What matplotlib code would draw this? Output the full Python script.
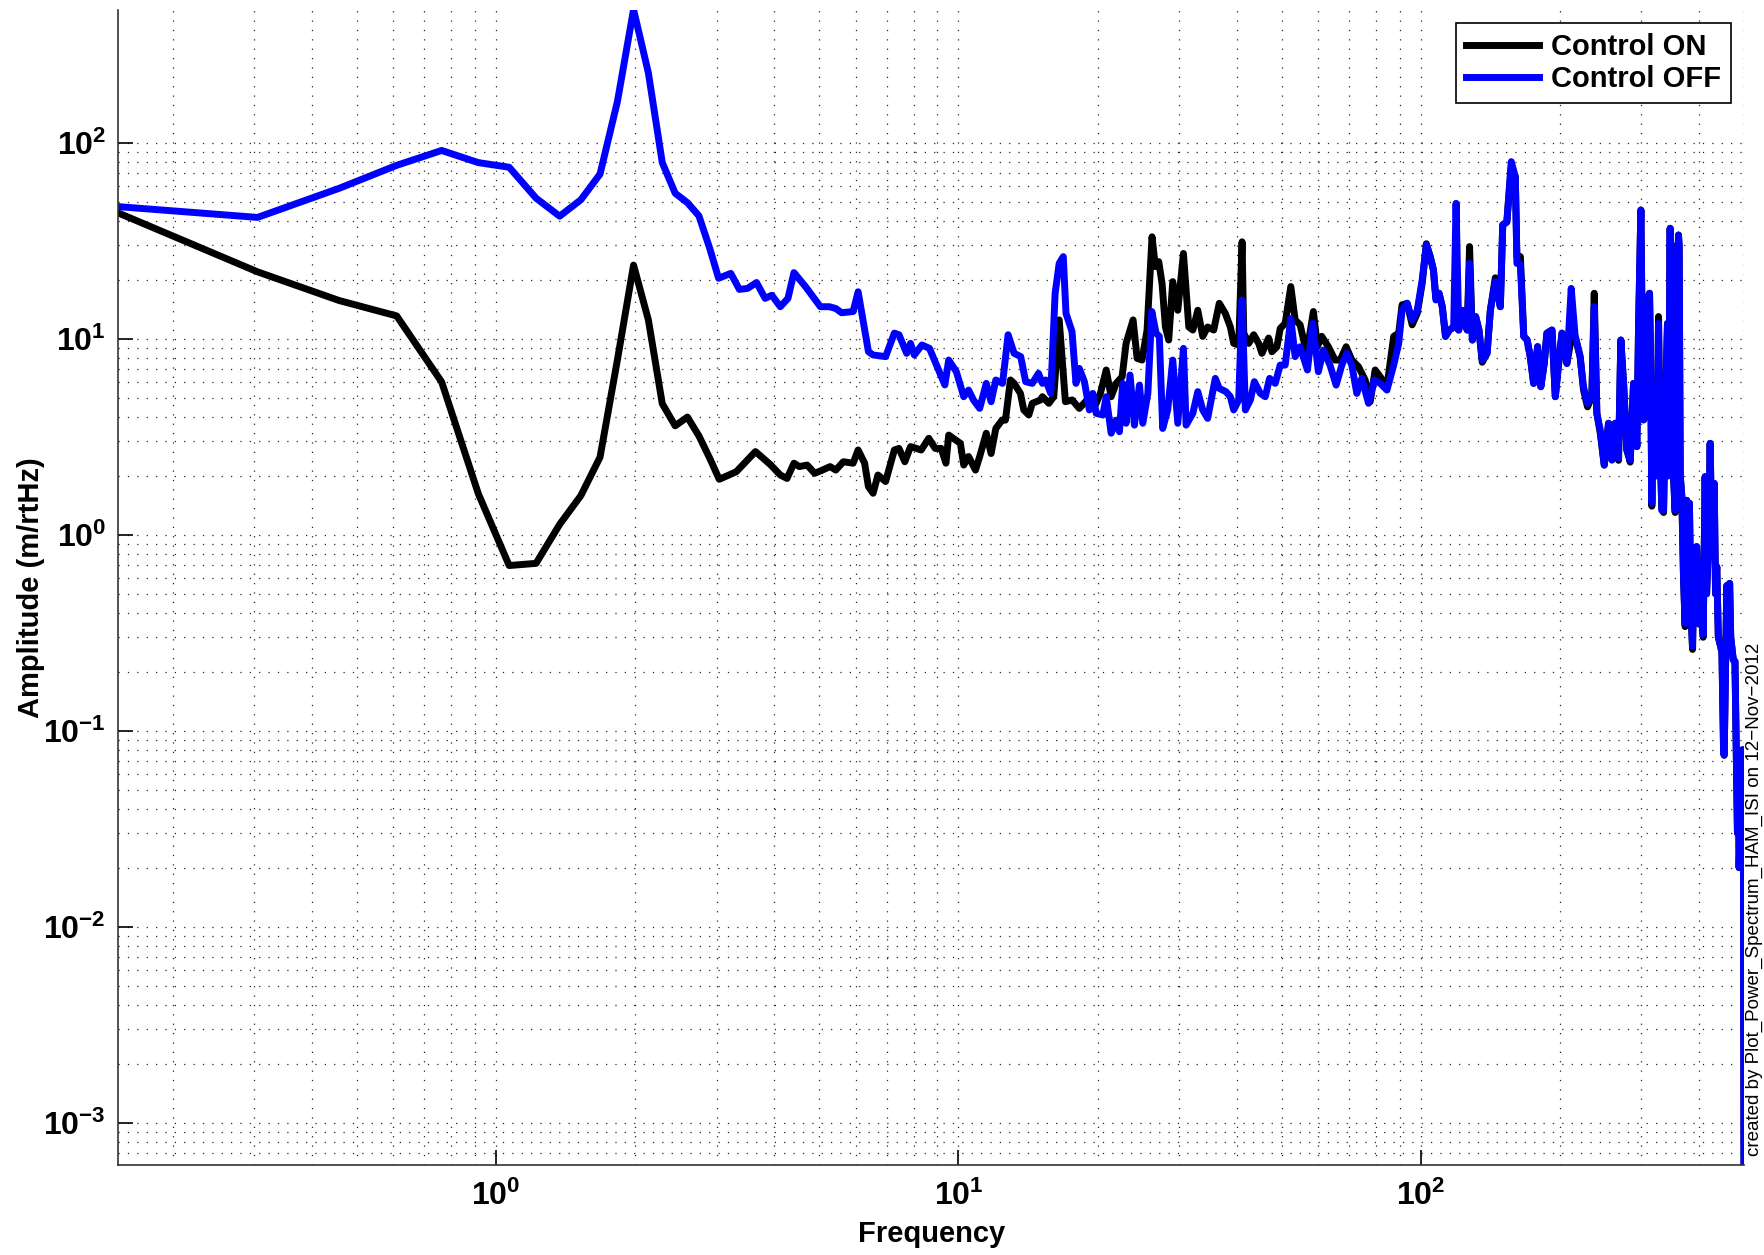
import numpy as np
import matplotlib
matplotlib.use('Agg')
import matplotlib.pyplot as plt
from matplotlib.ticker import FixedLocator, FuncFormatter, LogLocator, NullFormatter

plt.rcParams['font.family'] = ['Liberation Sans', 'DejaVu Sans']
plt.rcParams['mathtext.fontset'] = 'custom'
plt.rcParams['mathtext.rm'] = 'Liberation Sans'
plt.rcParams['mathtext.bf'] = 'Liberation Sans:bold'

# Control ON (black)
freq_on = [0.153, 0.305, 0.458, 0.610, 0.763, 0.916, 1.068, 1.221, 1.373, 1.526,
           1.679, 1.831, 1.984, 2.136, 2.289, 2.441, 2.594, 2.747, 2.899, 3.04,
           3.31, 3.64, 3.82, 3.93, 4.12, 4.26, 4.41, 4.53, 4.71, 4.89,
           5.08, 5.28, 5.43, 5.64, 5.92, 6.07, 6.27, 6.39, 6.54, 6.70,
           6.96, 7.27, 7.44, 7.66, 7.88, 8.31, 8.63, 8.91, 9.18, 9.40,
           9.53, 10.10, 10.27, 10.52, 10.89, 11.12, 11.49, 11.77, 12.05, 12.43,
           12.64, 12.96, 13.20, 13.62, 13.85, 14.20, 14.45, 15.05, 15.20, 15.69,
           16.08, 16.52, 17.04, 17.62, 18.26, 18.98, 19.46, 19.86, 20.28, 20.88,
           21.40, 21.94, 22.60, 23.05, 23.87, 24.35, 24.96, 25.59, 26.23, 26.67,
           27.12, 27.57, 28.04, 28.50, 29.08, 29.82, 30.67, 31.50, 32.14, 32.94,
           33.76, 34.60, 35.66, 36.66, 37.78, 38.74, 39.39, 40.39, 41.07, 41.41,
           42.45, 43.52, 44.60, 45.34, 46.87, 47.65, 48.85, 49.66, 50.90, 52.35,
           53.49, 54.83, 56.68, 58.58, 59.75, 61.06, 63.11, 65.26, 66.93, 68.96,
           70.93, 73.33, 75.81, 77.73, 79.68, 81.70, 84.49, 87.38, 89.59, 91.10,
           93.43, 95.80, 98.24, 100.7, 102.8, 104.8, 106.5, 107.8, 109.5, 111.3,
           113.1, 115.3, 117.8, 119.2, 120.8, 122.8, 126.0, 127.5, 129.3, 131.4,
           133.6, 135.8, 139.1, 141.4, 144.9, 148.6, 150.4, 153.5, 156.9, 160.1,
           161.4, 164.2, 167.0, 169.8, 172.5, 175.4, 178.9, 181.8, 184.9, 187.4,
           192.2, 195.4, 198.7, 202.0, 207.0, 211.5, 215.7, 221.1, 224.8, 229.4,
           234.4, 237.2, 240.3, 244.4, 249.3, 254.7, 259.0, 263.3, 267.7, 270.8,
           274.5, 279.0, 283.7, 288.5, 293.3, 295.7, 299.2, 301.0, 303.2, 306.0,
           308.2, 310.0, 312.4, 314.0, 316.0, 318.0, 321.3, 324.0, 326.7, 329.0,
           332.1, 335.0, 337.7, 341.6, 343.0, 346.2, 348.0, 350.0, 352.0, 354.9,
           357.0, 360.8, 362.0, 364.0, 366.9, 370.0, 373.0, 376.0, 378.0, 381.0,
           384.0, 387.0, 390.0, 395.0, 400.0, 405.0, 408.0, 412.1, 415.0, 419.0,
           422.5, 425.0, 428.0, 431.0, 434.0, 436.6, 440.0, 445.0, 448.0, 451.7,
           453.0, 456.0, 459.0, 462.0, 465.5, 468.0, 472.0, 474.0, 478.0, 481.0,
           484.0, 486.0, 488.0, 490.0, 494.0, 497.0, 498.5, 500.0]
amp_on = [43.8, 22.0, 15.7, 13.1, 6.03, 1.62, 0.697, 0.715, 1.13, 1.585,
          2.49, 7.83, 23.8, 12.5, 4.67, 3.60, 3.99, 3.20, 2.46, 1.92,
          2.10, 2.66, 2.41, 2.27, 2.02, 1.94, 2.32, 2.23, 2.27, 2.06,
          2.14, 2.23, 2.14, 2.36, 2.32, 2.71, 2.32, 1.76, 1.63, 2.02,
          1.87, 2.71, 2.76, 2.36, 2.82, 2.71, 3.11, 2.76, 2.76, 2.32,
          3.23, 2.93, 2.27, 2.51, 2.14, 2.51, 3.30, 2.60, 3.49, 3.85,
          3.85, 6.17, 5.93, 5.27, 4.34, 4.09, 4.69, 4.88, 5.07, 4.69,
          5.07, 12.5, 4.78, 4.88, 4.42, 4.88, 4.88, 4.69, 5.27, 6.94,
          5.07, 5.93, 6.41, 9.49, 12.5, 7.96, 7.80, 11.1, 33.2, 23.4,
          24.8, 19.2, 11.5, 9.87, 19.6, 14.0, 27.3, 11.5, 11.1, 14.0,
          10.3, 11.5, 11.1, 15.2, 13.5, 11.5, 9.49, 9.31, 31.3, 10.7,
          9.49, 10.5, 9.49, 8.44, 10.1, 8.60, 9.12, 11.3, 12.0, 18.5,
          12.5, 11.8, 8.44, 13.8, 9.12, 10.3, 9.12, 7.80, 7.80, 9.12,
          7.80, 7.21, 6.17, 4.78, 6.94, 6.41, 5.70, 10.3, 10.7, 14.9,
          15.2, 11.8, 13.5, 19.2, 30.6, 26.3, 22.5, 16.2, 17.1, 14.6,
          10.3, 11.1, 11.5, 11.5, 11.1, 14.0, 11.1, 29.6, 9.87, 13.0,
          11.1, 7.6, 8.44, 14.0, 20.5, 14.6, 38.2, 39.5, 75.0, 67.3,
          26.3, 26.3, 10.3, 9.87, 8.12, 5.93, 9.13, 5.70, 7.50, 10.7,
          11.1, 5.07, 7.50, 10.7, 7.50, 10.0, 10.3, 8.12, 5.50, 4.50,
          5.07, 17.1, 4.17, 3.30, 2.27, 3.71, 2.41, 3.71, 2.40, 9.87,
          5.93, 2.71, 2.35, 5.93, 2.82, 11.1, 45.5, 12.0, 3.86, 8.0,
          16.4, 4.0, 17.1, 8.0, 1.40, 5.0, 3.86, 2.0, 13.0, 3.0,
          1.34, 1.30, 4.01, 12.0, 2.0, 36.7, 3.0, 30.0, 2.0, 1.30,
          6.0, 33.9, 30.0, 2.0, 1.57, 0.6, 0.34, 1.5, 0.5, 1.45,
          0.4, 0.26, 0.8, 0.87, 0.35, 0.5, 0.30, 1.98, 0.5, 0.9,
          2.93, 1.2, 0.8, 1.83, 0.5, 0.687, 0.3, 0.27, 0.25, 0.0775,
          0.075, 0.2, 0.55, 0.35, 0.565, 0.3, 0.25, 0.23, 0.226, 0.08,
          0.03, 0.08, 0.02, 0.03, 0.06, 0.08, 0.03, 0.000607]

# Control OFF (blue)
freq_off = [0.153, 0.305, 0.458, 0.610, 0.763, 0.916, 1.068, 1.221, 1.373, 1.526,
            1.679, 1.831, 1.984, 2.136, 2.289, 2.441, 2.594, 2.747, 2.899, 3.03,
            3.22, 3.36, 3.50, 3.66, 3.82, 3.95, 4.12, 4.28, 4.41, 4.67,
            5.03, 5.26, 5.43, 5.59, 5.92, 6.07, 6.39, 6.54, 6.96, 7.27,
            7.44, 7.73, 7.88, 8.03, 8.34, 8.66, 9.00, 9.35, 9.53, 9.90,
            10.27, 10.52, 10.78, 11.12, 11.49, 11.77, 12.05, 12.46, 12.81, 13.20,
            13.64, 13.98, 14.45, 14.90, 15.20, 15.45, 15.84, 16.19, 16.52, 16.86,
            17.09, 17.61, 17.96, 18.26, 18.73, 19.20, 19.53, 19.86, 20.53, 20.88,
            21.40, 21.94, 22.30, 22.67, 23.05, 23.51, 24.03, 24.64, 25.05, 25.69,
            26.20, 26.76, 27.20, 27.66, 28.36, 29.08, 29.82, 30.67, 31.08, 32.14,
            32.94, 33.76, 34.60, 35.94, 36.66, 37.90, 38.74, 39.39, 40.39, 41.07,
            41.75, 42.80, 43.66, 44.97, 46.10, 47.10, 48.44, 49.66, 50.90, 52.35,
            53.49, 54.83, 56.87, 58.39, 60.05, 61.56, 63.64, 65.60, 67.49, 69.19,
            70.93, 72.72, 74.56, 77.09, 79.29, 81.70, 84.49, 87.38, 89.59, 91.10,
            93.43, 95.80, 98.24, 100.7, 102.8, 104.8, 106.5, 107.8, 109.5, 111.3,
            113.1, 115.3, 117.8, 119.2, 120.8, 122.8, 126.0, 127.5, 129.3, 131.4,
            133.6, 135.8, 139.1, 141.4, 144.9, 148.6, 150.4, 153.5, 156.9, 160.1,
            161.4, 164.2, 167.0, 169.8, 172.5, 175.4, 178.9, 181.8, 184.9, 187.4,
            192.2, 195.4, 198.7, 202.0, 207.0, 211.5, 215.7, 221.1, 224.8, 229.4,
            234.4, 237.2, 240.3, 244.4, 249.3, 254.7, 259.0, 263.3, 267.7, 270.8,
            274.5, 279.0, 283.7, 288.5, 293.3, 295.7, 299.2, 301.0, 303.2, 306.0,
            308.2, 310.0, 312.4, 314.0, 316.0, 318.0, 321.3, 324.0, 326.7, 329.0,
            332.1, 335.0, 337.7, 341.6, 343.0, 346.2, 348.0, 350.0, 352.0, 354.9,
            357.0, 360.8, 362.0, 364.0, 366.9, 370.0, 373.0, 376.0, 378.0, 381.0,
            384.0, 387.0, 390.0, 395.0, 400.0, 405.0, 408.0, 412.1, 415.0, 419.0,
            422.5, 425.0, 428.0, 431.0, 434.0, 436.6, 440.0, 445.0, 448.0, 451.7,
            453.0, 456.0, 459.0, 462.0, 465.5, 468.0, 472.0, 474.0, 478.0, 481.0,
            484.0, 486.0, 488.0, 490.0, 494.0, 497.0, 498.5, 500.0]
amp_off = [47.3, 41.7, 58.7, 76.9, 91.6, 79.4, 75.2, 52.3, 42.3, 51.3,
           69.4, 163, 480, 228, 79.4, 55.4, 49.6, 42.5, 29.0, 20.4,
           21.6, 17.9, 18.1, 19.4, 16.1, 16.7, 14.6, 16.1, 21.8, 18.5,
           14.6, 14.6, 14.3, 13.6, 13.8, 17.4, 8.61, 8.28, 8.12, 10.7,
           10.5, 8.44, 9.49, 8.28, 9.31, 8.95, 7.22, 5.82, 7.80, 6.80,
           5.07, 5.48, 4.88, 4.42, 5.93, 4.78, 6.17, 5.93, 10.5, 8.44,
           8.12, 6.05, 5.93, 6.67, 5.93, 6.17, 5.27, 17.1, 24.3, 26.3,
           13.5, 10.9, 5.93, 7.07, 6.05, 4.34, 5.27, 4.17, 4.09, 5.07,
           3.30, 3.85, 3.36, 5.93, 3.71, 6.54, 3.63, 5.81, 3.71, 5.27,
           13.8, 10.7, 10.3, 3.49, 4.34, 7.80, 3.71, 8.95, 3.63, 4.17,
           5.38, 4.34, 3.93, 6.29, 5.59, 5.38, 5.07, 4.34, 4.88, 15.8,
           4.34, 4.88, 6.05, 5.27, 5.07, 6.29, 5.93, 7.35, 7.35, 12.7,
           8.12, 9.12, 6.94, 12.0, 6.80, 8.77, 7.35, 5.81, 7.35, 8.44,
           7.35, 5.27, 6.29, 4.69, 6.17, 5.93, 5.48, 7.35, 9.49, 14.0,
           15.2, 12.5, 14.0, 20.0, 30.2, 26.3, 22.5, 15.8, 17.1, 14.6,
           10.3, 11.1, 11.5, 49.2, 11.1, 14.0, 11.1, 24.3, 9.87, 13.0,
           11.1, 7.81, 8.44, 14.0, 19.6, 14.6, 38.2, 39.5, 80.3, 67.3,
           24.3, 24.0, 10.3, 9.87, 8.12, 5.93, 9.13, 5.70, 7.50, 10.7,
           11.1, 5.07, 7.50, 10.7, 7.50, 18.1, 10.3, 8.12, 5.70, 4.69,
           5.07, 14.6, 4.17, 3.43, 2.27, 3.71, 2.41, 3.71, 2.46, 9.87,
           5.93, 2.71, 2.41, 5.93, 2.82, 11.1, 45.5, 12.0, 3.86, 8.0,
           16.4, 4.0, 17.1, 8.0, 1.45, 5.0, 3.86, 2.0, 12.0, 3.0,
           1.34, 1.34, 4.01, 12.0, 2.0, 36.7, 3.0, 30.0, 2.0, 1.34,
           6.0, 33.9, 30.0, 2.0, 1.57, 0.6, 0.353, 1.5, 0.5, 1.45,
           0.4, 0.269, 0.8, 0.87, 0.35, 0.5, 0.308, 1.98, 0.5, 0.9,
           2.93, 1.2, 0.8, 1.83, 0.5, 0.687, 0.3, 0.27, 0.25, 0.0775,
           0.075, 0.2, 0.55, 0.35, 0.565, 0.3, 0.25, 0.23, 0.226, 0.08,
           0.03, 0.08, 0.02, 0.03, 0.06, 0.08, 0.03, 0.000607]

x_range = (0.1526, 500)
y_range = (6.07e-4, 480)

fig = plt.figure(figsize=(17.65, 12.55), dpi=100)
ax = fig.add_axes([0.0671, 0.0717, 0.9210, 0.9207])

ax.loglog(freq_on, amp_on, color='k', linewidth=5, label='Control ON')
ax.loglog(freq_off, amp_off, color=(0, 0, 1), linewidth=5, label='Control OFF')
ax.set_xlim(x_range)
ax.set_ylim(y_range)

# matlab style: dotted grid, minor lines only inside the labelled decades on y
ax.xaxis.set_major_locator(FixedLocator([1, 10, 100]))
ax.xaxis.set_minor_locator(LogLocator(base=10, subs=np.arange(2, 10)))
ax.yaxis.set_major_locator(FixedLocator([1e-3, 1e-2, 1e-1, 1, 10, 100]))
y_minor = [k * 10.0 ** e for e in range(-4, 2) for k in range(2, 10)]
y_minor = [v for v in y_minor if 6.5e-4 < v < 100]
ax.yaxis.set_minor_locator(FixedLocator(y_minor))
ax.xaxis.set_minor_formatter(NullFormatter())
ax.yaxis.set_minor_formatter(NullFormatter())

fmt = FuncFormatter(lambda v, p: r'$\mathbf{10^{%d}}$' % int(round(np.log10(v))))
ax.xaxis.set_major_formatter(fmt)
ax.yaxis.set_major_formatter(fmt)

ax.grid(True, which='both', linestyle=(0, (1, 6.5)), color='0.15', linewidth=0.9)
ax.tick_params(which='major', direction='in', length=11, width=1.2,
               labelsize=23, pad=9, colors='k')
ax.tick_params(axis='x', which='major', pad=11)
ax.tick_params(which='minor', length=0)

for s in ['top', 'right']:
    ax.spines[s].set_visible(False)
for s in ['left', 'bottom']:
    ax.spines[s].set_color('0.2')
    ax.spines[s].set_linewidth(1.2)

ax.set_xlabel('Frequency', fontsize=21, fontweight='bold', va='center')
ax.set_ylabel('Amplitude (m/rtHz)', fontsize=21, fontweight='bold', va='center')
ax.xaxis.set_label_coords(0.5, -0.06)
ax.yaxis.set_label_coords(-0.054, 0.5)

leg = ax.legend(loc='upper right', prop={'weight': 'bold', 'size': 21},
                fancybox=False, edgecolor='k', framealpha=1,
                borderaxespad=0.45, handlelength=2.5, handletextpad=0.4,
                labelspacing=0.15, borderpad=0.35)
leg.get_frame().set_linewidth(1.2)

fig.text(0.9938, 0.079, 'created by Plot_Power_Spectrum_HAM_ISI on 12\u2212Nov\u22122012',
         rotation=90, ha='center', va='bottom', fontsize=13.5)

fig.savefig('out.png', dpi=100)
